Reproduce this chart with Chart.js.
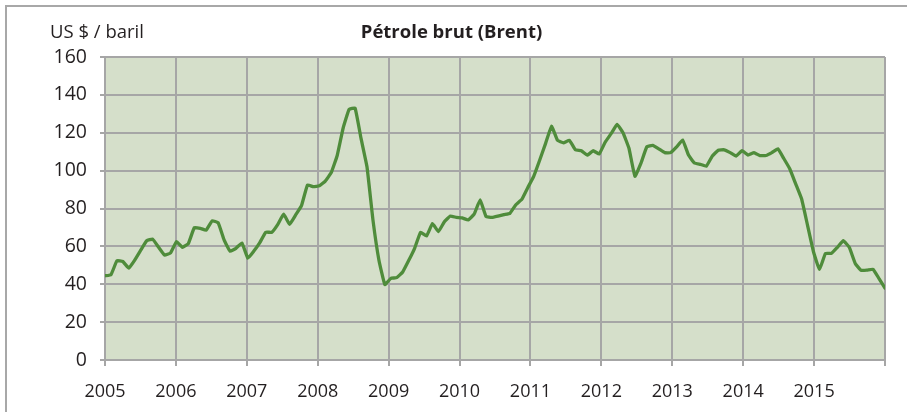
<!DOCTYPE html>
<html><head><meta charset="utf-8">
<script src="https://cdn.jsdelivr.net/npm/chart.js@4.4.1/dist/chart.umd.min.js"></script>
<style>
html,body{margin:0;padding:0;background:#fff;overflow:hidden}
#wrap{position:relative;width:907px;height:412px}
#frame{position:absolute;left:5px;top:5px;width:930px;height:430px;border:2px solid #a8a8a8;box-sizing:border-box}
#c{position:absolute;left:0;top:0}
.unit{position:absolute;left:50px;top:18px;font:18.5px 'Open Sans',sans-serif;color:#231f20;white-space:nowrap}
.title{position:absolute;left:0;width:907px;text-align:center;top:18px;font:bold 18.5px 'Open Sans',sans-serif;color:#231f20;white-space:nowrap}
.title span{position:relative;left:-2px}
</style></head>
<body><div id="wrap"><div id="frame"></div>
<canvas id="c" width="907" height="412"></canvas>
<div class="unit">US $ / baril</div>
<div class="title"><span>Pétrole brut (Brent)</span></div>
</div>
<script>
const chartTitle = "Pétrole brut (Brent)";
const unitLabel = "US $ / baril";
const yearLabels = ["2005","2006","2007","2008","2009","2010","2011","2012","2013","2014","2015",""];
const yTicks = [0,20,40,60,80,100,120,140,160];
// Monthly Brent prices, Jan 2005 .. Dec 2015 (US $ / baril)
const p2005 = [44.5,45,52.4,52,48.5,52.8,58,63,63.8,59.5,55.4,56.5];
const p2006 = [62.5,59.5,61.5,69.9,69.5,68.6,73.5,72.5,63.4,57.5,59,61.8];
const p2007 = [53.7,57.5,62,67.5,67.4,71.5,77,71.6,76.5,81.5,92.4,91.5];
const p2008 = [92,94.5,99,108,122.5,132.3,133,117,102,74,52.8,39.8];
const p2009 = [43.1,43.5,46.5,52.5,59,67.4,65.5,72,67.8,73,76,75.3];
const p2010 = [75,74,77,84.5,75.7,75.3,76,76.8,77.4,82,84.8,91];
const p2011 = [97,105.5,114.4,123.5,116,114.7,116,111,110.5,108.2,110.5,108.8];
const p2012 = [115,119.5,124.4,120,111.8,97,103.8,112.6,113.3,111.5,109.5,109.5];
const p2013 = [112.5,116.2,108.2,104,103.3,102.4,107.7,110.8,111,109.5,107.7,110.5];
const p2014 = [108.2,109.5,107.9,108,109.5,111.5,106.4,101,93,85,71,57];
const p2015 = [47.8,56.3,56.3,59.5,63,59.5,51,47.3,47.5,47.9,43,38];

const prices = [].concat(p2005,p2006,p2007,p2008,p2009,p2010,p2011,p2012,p2013,p2014,p2015);
const lastIdx = prices.length - 1;
const points = prices.map((v,i)=>({x:i,y:v}));

const GRID = '#a6a6a6';

const plotBg = {
  id:'plotBg',
  beforeDraw(chart){
    const a = chart.chartArea, ctx = chart.ctx;
    ctx.save(); ctx.fillStyle = '#d5dfca';
    ctx.fillRect(a.left, a.top, a.right-a.left, a.bottom-a.top);
    ctx.restore();
  }
};

new Chart(document.getElementById('c'), {
  type:'line',
  data:{datasets:[{
    label: chartTitle,
    data: points,
    borderColor:'#4f8c3b',
    borderWidth:3.3,
    pointRadius:0,
    tension:0.1,
    borderJoinStyle:'round',
    borderCapStyle:'round',
    fill:false
  }]},
  options:{
    responsive:false,
    animation:false,
    devicePixelRatio:1,
    layout:{padding:{left:0,right:22,top:57,bottom:0}},
    plugins:{legend:{display:false},tooltip:{enabled:false},title:{display:false}},
    scales:{
      x:{
        type:'linear', min:0, max:lastIdx,
        afterBuildTicks(s){ s.ticks = yearLabels.map((_,k)=>({value:k*lastIdx/11})); },
        afterFit(s){ s.height = 52; },
        grid:{color:GRID, lineWidth:2, tickLength:6, drawTicks:true, tickColor:GRID},
        border:{display:true,color:GRID,width:2},
        ticks:{autoSkip:false, maxRotation:0, padding:15, color:'#231f20',
          font:{family:"'Open Sans', sans-serif", size:18},
          callback:(v,idx)=>yearLabels[idx]}
      },
      y:{
        min:0, max:160,
        afterBuildTicks(s){ s.ticks = yTicks.map(v=>({value:v})); },
        afterFit(s){ s.width = 105; },
        grid:{color:GRID, lineWidth:2, tickLength:5, drawTicks:true, tickColor:GRID},
        border:{display:true,color:GRID,width:2},
        ticks:{padding:13, color:'#231f20', font:{family:"'Open Sans', sans-serif", size:19.5}}
      }
    }
  },
  plugins:[plotBg]
});
</script>
</body></html>
